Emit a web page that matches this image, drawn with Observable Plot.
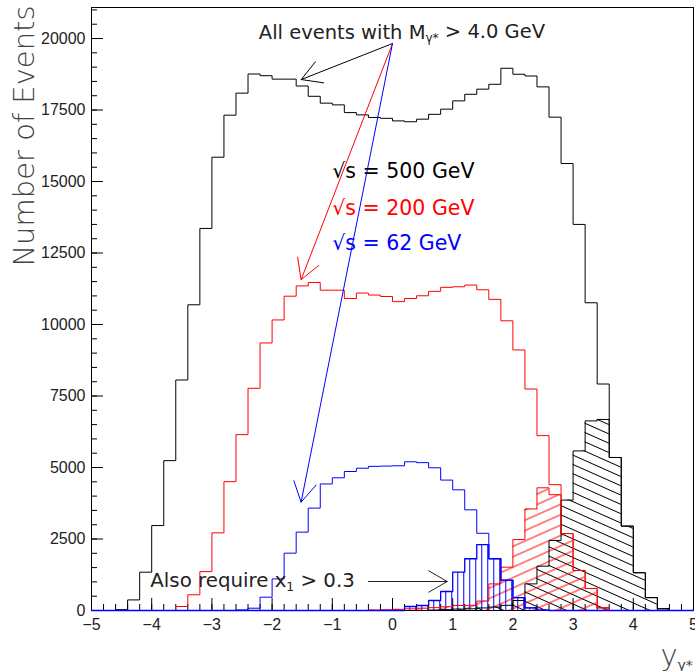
<!DOCTYPE html>
<html>
<head>
<meta charset="utf-8">
<script src="https://cdn.jsdelivr.net/npm/d3@7"></script>
<script src="https://cdn.jsdelivr.net/npm/@observablehq/plot@0.6"></script>
<style>
  body { margin: 0; background: #fff; }
  #chart svg { display: block; }
</style>
</head>
<body>
<div id="chart"></div>
<script>
// ---- Data ----
// lower edges of the 0.2-wide rapidity bins
const binLow = [-5,-4.8,-4.6,-4.4,-4.2,-4,-3.8,-3.6,-3.4,-3.2,-3,-2.8,-2.6,-2.4,-2.2,-2,-1.8,-1.6,-1.4,-1.2,
  -1,-0.8,-0.6,-0.4,-0.2,0,0.2,0.4,0.6,0.8,1,1.2,1.4,1.6,1.8,2,2.2,2.4,2.6,2.8,
  3,3.2,3.4,3.6,3.8,4,4.2,4.4,4.6,4.8];
const binWidth = 0.2;

// all events with M > 4 GeV
const all500 = [0,0,30,370,1340,2970,5240,8060,10690,13360,
  15850,17320,18090,18760,18700,18580,18580,18340,17980,17740,
  17680,17410,17330,17240,17210,17120,17090,17180,17350,17530,
  17820,18050,18230,18400,18960,18750,18690,18310,17250,15630,
  13500,10760,7920,5350,2950,1320,450,60,0,0];
const all200 = [0,0,0,0,0,0,0,140,550,1360,
  2715,4505,6150,7770,9355,10160,10990,11350,11470,11200,
  11200,10910,11100,11030,10980,10800,10910,11005,11160,11300,
  11320,11380,11215,10880,10130,9110,7745,6115,4400,2690,
  1400,770,93,0,0,0,0,0,0,0];
const all62 = [0,0,0,0,0,0,0,0,0,0,
  0,0,20,80,465,1105,2005,2740,3580,4425,
  4640,4860,4975,5040,5050,5060,5200,5170,4990,4560,
  4220,3520,2700,1810,1060,450,93,15,0,0,
  0,0,0,0,0,0,0,0,0,0];

// also requiring x1 > 0.3 (hatched)
const cut500 = [0,0,0,0,0,0,0,0,0,0,
  0,0,0,0,0,0,0,0,0,0,
  0,0,0,0,0,0,0,0,15,30,
  50,60,90,120,180,350,930,1550,2450,3860,
  5580,6630,6680,5350,2950,1320,450,60,0,0];
const cut200 = [0,0,0,0,0,0,0,0,0,0,
  0,0,0,0,0,0,0,0,0,0,
  0,0,0,15,25,40,60,80,100,130,
  175,180,330,930,1515,2480,3550,4290,4050,2690,
  1400,770,93,0,0,0,0,0,0,0];
const cut62 = [0,0,0,0,0,0,0,0,0,0,
  0,0,0,0,0,0,0,0,0,0,
  0,0,0,0,0,0,140,175,350,665,
  1340,1810,2300,1810,1060,450,93,15,0,0,
  0,0,0,0,0,0,0,0,0,0];

// axis ticks
const xMajor = [-5,-4,-3,-2,-1,0,1,2,3,4,5];
const xMinor = binLow.concat([5]);
const yMajor = [0,2500,5000,7500,10000,12500,15000,17500,20000];
const yMinor = [0,500,1000,1500,2000,2500,3000,3500,4000,4500,5000,5500,6000,6500,7000,7500,8000,8500,9000,9500,
  10000,10500,11000,11500,12000,12500,13000,13500,14000,14500,15000,15500,16000,16500,17000,17500,18000,18500,19000,19500,20000,20500,21000];

// annotations (data coordinates)
const legendLabels = ["√s = 500 GeV", "√s = 200 GeV", "√s = 62 GeV"];
const legendColors = ["#000000", "#ff0000", "#0000ff"];
const legendY = [15113, 13818, 12594];
const legendX = -1.0;
const arrowApex = {x: 0.0, y: 19825};
const arrowTipX = [-1.516, -1.518, -1.518];
const arrowTipY = [18566, 11569, 3789];
const topNote = {x: -2.221, y: 20000, text: "All events with Mγ* > 4.0 GeV"};
const cutNote = {x: -4.023, y: 805, text: "Also require x1 > 0.3"};
const cutArrow = {x1: -0.399, x2: 0.909, y: 1014};

// ---- helpers ----
function steps(values) {
  const pts = binLow.map((x, i) => ({x, v: values[i]}));
  pts.push({x: binLow[binLow.length - 1] + binWidth, v: values[values.length - 1]});
  return pts;
}
const legendData = legendLabels.map((t, i) => ({t, c: legendColors[i], x: legendX, y: legendY[i]}));
const arrowData = arrowTipX.map((x, i) => ({x1: arrowApex.x, y1: arrowApex.y, x2: x, y2: arrowTipY[i], c: legendColors[i]}));

const annoFont = "DejaVu Sans";

const chart = Plot.plot({
  width: 695,
  height: 671,
  marginLeft: 91,
  marginRight: 2,
  marginTop: 7,
  marginBottom: 61,
  x: {domain: [-5, 5]},
  y: {domain: [0, 21085]},
  style: {fontFamily: "Liberation Sans, Arial, sans-serif", fontSize: "16px", color: "#000", background: "#fff"},
  marks: [
    Plot.frame({stroke: "#000", strokeWidth: 1}),
    // ticks (inward)
    Plot.axisY({ticks: yMajor, tickSize: -12, fill: "none", label: null}),
    Plot.axisY({ticks: yMinor, tickSize: -6, fill: "none", label: null}),
    Plot.axisY({ticks: yMajor, tickSize: 0, tickPadding: 6, tickFormat: d => String(d), label: null, fontSize: 16, fill: "#222"}),
    Plot.axisX({ticks: xMajor, tickSize: -12, fill: "none", label: null}),
    Plot.axisX({ticks: xMinor, tickSize: -6, fill: "none", label: null}),
    Plot.axisX({ticks: xMajor, tickSize: 0, tickPadding: 8, tickFormat: d3.format("d"), label: null, fontSize: 16, fill: "#222"}),

    // hatched fills
    Plot.areaY(steps(cut500), {x: "x", y: "v", curve: "step-after", fill: "url(#hatchBlack)"}),
    Plot.areaY(steps(cut200), {x: "x", y: "v", curve: "step-after", fill: "url(#hatchRed)"}),
    Plot.areaY(steps(cut62), {x: "x", y: "v", curve: "step-after", fill: "url(#hatchBlue)"}),

    // all-event histograms
    Plot.line(steps(all500), {x: "x", y: "v", curve: "step-after", stroke: "#000000", strokeWidth: 1}),
    Plot.line(steps(all200), {x: "x", y: "v", curve: "step-after", stroke: "#ff0000", strokeWidth: 1}),
    Plot.line(steps(all62), {x: "x", y: "v", curve: "step-after", stroke: "#0000ff", strokeWidth: 1}),
    // cut histograms outlines
    Plot.line(steps(cut500), {x: "x", y: "v", curve: "step-after", stroke: "#000000", strokeWidth: 1}),
    Plot.line(steps(cut200), {x: "x", y: "v", curve: "step-after", stroke: "#ff0000", strokeWidth: 1}),
    Plot.line(steps(cut62), {x: "x", y: "v", curve: "step-after", stroke: "#0000ff", strokeWidth: 1.3}),

    // arrows
    Plot.arrow(arrowData, {x1: "x1", y1: "y1", x2: "x2", y2: "y2", stroke: "c", strokeWidth: 1, headLength: 34, headAngle: 60}),
    Plot.arrow([cutArrow], {x1: "x1", y1: "y", x2: "x2", y2: "y", stroke: "#222", strokeWidth: 1, headLength: 32, headAngle: 60}),

    // annotation texts
    Plot.text(legendData, {x: "x", y: "y", text: "t", fill: "c", textAnchor: "start", lineAnchor: "bottom", fontSize: 20.5, fontFamily: annoFont}),
    Plot.text([topNote], {x: "x", y: "y", text: "text", textAnchor: "start", lineAnchor: "bottom", fontSize: 19.5, fontFamily: annoFont, fill: "#222"}),
    Plot.text([cutNote], {x: "x", y: "y", text: "text", textAnchor: "start", lineAnchor: "bottom", fontSize: 19.8, fontFamily: annoFont, fill: "#222"}),

    // axis titles
    Plot.text(["Number of Events"], {text: d => d, frameAnchor: "top-left", rotate: -90, textAnchor: "end", lineAnchor: "bottom", dx: -58, dy: -2, fontSize: 29, fontFamily: annoFont, fontWeight: 200, fill: "#444"}),
    Plot.text(["y"], {text: d => d, frameAnchor: "bottom-right", textAnchor: "start", lineAnchor: "bottom", dx: -33, dy: 54, fontSize: 29, fontFamily: annoFont, fontWeight: 200, fill: "#444"}),
    Plot.text(["γ*"], {text: d => d, frameAnchor: "bottom-right", textAnchor: "start", lineAnchor: "bottom", dx: -16, dy: 59, fontSize: 14, fontFamily: annoFont, fill: "#444"})
  ]
});

// hatch patterns
const svg = d3.select(chart);
const defs = svg.insert("defs", ":first-child");
function hatch(id, color, spacing, angle) {
  const p = defs.append("pattern").attr("id", id).attr("patternUnits", "userSpaceOnUse")
    .attr("width", 40).attr("height", spacing).attr("patternTransform", `rotate(${angle})`);
  p.append("line").attr("x1", 0).attr("y1", spacing / 2).attr("x2", 40).attr("y2", spacing / 2)
    .attr("stroke", color).attr("stroke-width", 1);
}
hatch("hatchBlack", "#000000", 8.5, 24);
hatch("hatchRed", "#ff0000", 9.5, -24);
const pb = defs.append("pattern").attr("id", "hatchBlue").attr("patternUnits", "userSpaceOnUse")
  .attr("width", 6).attr("height", 20).attr("x", 1.25);
pb.append("line").attr("x1", 0.5).attr("y1", 0).attr("x2", 0.5).attr("y2", 20).attr("stroke", "#0000ff").attr("stroke-width", 1);

// subscripts
svg.selectAll("text").each(function () {
  const t = this.textContent;
  const sel = d3.select(this);
  if (t === topNote.text) {
    sel.text(null);
    sel.append("tspan").text("All events with M");
    sel.append("tspan").attr("font-size", "0.62em").attr("dy", "0.3em").text("γ*");
    sel.append("tspan").attr("dy", "-0.19em").text(" > 4.0 GeV");
  } else if (t === cutNote.text) {
    sel.text(null);
    sel.append("tspan").text("Also require x");
    sel.append("tspan").attr("font-size", "0.62em").attr("dy", "0.3em").text("1");
    sel.append("tspan").attr("dy", "-0.19em").text(" > 0.3");
  }
});

document.getElementById("chart").appendChild(chart);
</script>
</body>
</html>
